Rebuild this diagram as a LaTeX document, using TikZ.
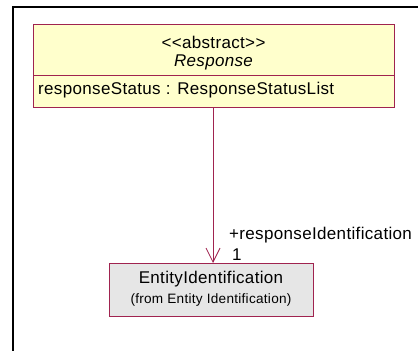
\documentclass[tikz,border=0pt]{standalone}
\usepackage{fontspec}
\setmainfont{Liberation Sans}[LetterSpace=2]
\usetikzlibrary{arrows.meta}
\definecolor{umlred}{HTML}{A0234F}
\definecolor{umlyellow}{HTML}{FFFFCC}
\definecolor{umlgray}{HTML}{E6E6E6}
\tikzset{
  classbox/.style={draw=umlred, line width=1pt},
  frameline/.style={draw=black, line width=2pt},
  assoc/.style={draw=umlred, line width=0.8pt, -{Straight Barb[length=14pt,width=14pt,line width=0.8pt]}},
  txt/.style={inner sep=0pt, font=\fontsize{17}{20}\selectfont},
  smalltxt/.style={inner sep=0pt, font=\fontsize{13.6}{16}\selectfont},
}
\begin{document}
\begin{tikzpicture}[x=1pt,y=-1pt]
\useasboundingbox (0,0) rectangle (418,351);
\draw[frameline] (13,351) -- (13,7) -- (419,7);
% Response class
\path[classbox, fill=umlyellow] (33,24) rectangle (394,107);
\draw[classbox] (33,75) -- (394,75);
\node[txt] (stereo) at (213.5,42) {{<}{<}abstract{>}{>}};
\node[txt] (rname) at (213.5,62) {\itshape Response};
\node[txt, anchor=west] (attr) at (38,90) {responseStatus : ResponseStatusList};
\coordinate (rbot) at (213,107);
% EntityIdentification class
\path[classbox, fill=umlgray] (109,263) rectangle (313,316);
\node[txt] (ename) at (211,279) {EntityIdentification};
\node[smalltxt] (efrom) at (211,300) {(from Entity Identification)};
\coordinate (etop) at (213,263);
\draw[assoc] (rbot) -- (etop);
\node[txt, anchor=west] (role) at (229,235) {+responseIdentification};
\node[txt, anchor=west] (mult) at (232,255) {1};
\end{tikzpicture}
\end{document}
